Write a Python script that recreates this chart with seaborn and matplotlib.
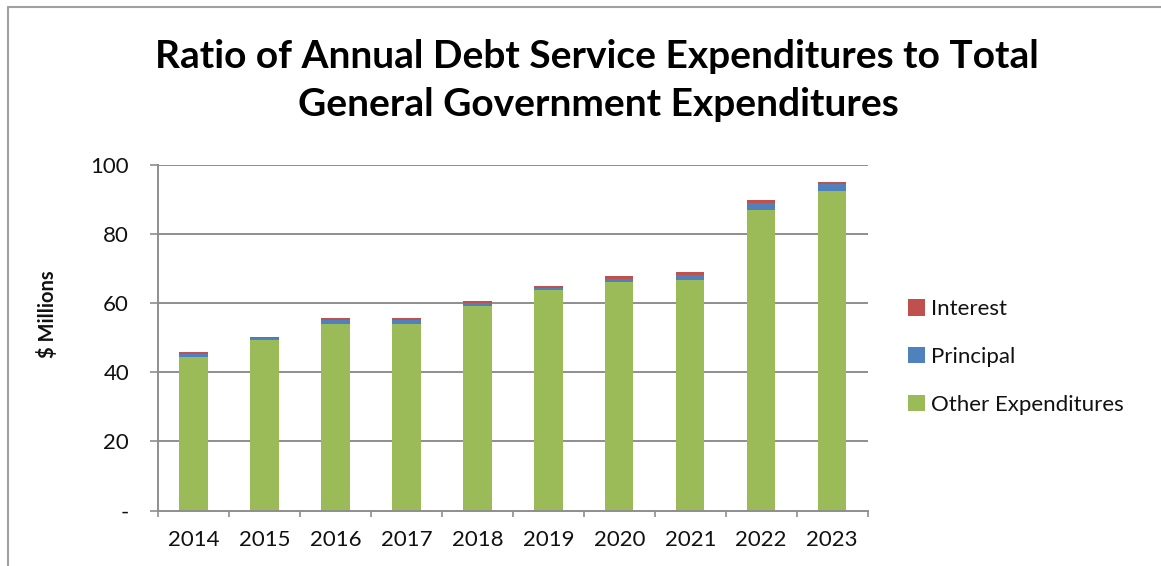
import matplotlib
matplotlib.use("Agg")
import matplotlib.pyplot as plt
from matplotlib.patches import Patch
from matplotlib.lines import Line2D
import numpy as np
import pandas as pd
import seaborn as sns

# Fiscal years and expenditure components ($ millions)
years = ["2014", "2015", "2016", "2017", "2018", "2019", "2020", "2021", "2022", "2023"]
other = [44.6, 49.3, 53.9, 53.9, 59.1, 63.8, 66.1, 66.7, 87.0, 92.6]
principal = [0.7, 0.6, 1.2, 1.2, 1.0, 0.6, 1.1, 1.65, 2.2, 1.9]
interest = [0.5, 0.5, 0.6, 0.6, 0.6, 0.6, 0.6, 0.65, 0.7, 0.6]

series_names = ["Interest", "Principal", "Other Expenditures"]
series_colors = ["#C0504D", "#4F81BD", "#9BBB59"]

y_ticks = [0, 20, 40, 60, 80, 100]
y_tick_labels = ["-", "20", "40", "60", "80", "100"]

df = pd.DataFrame({"year": years, "other": other,
                   "principal": principal, "interest": interest})
df["lvl_principal"] = df["other"] + df["principal"]
df["lvl_interest"] = df["lvl_principal"] + df["interest"]

sns.set_theme(style="white")
plt.rcParams["font.family"] = ["Lato", "DejaVu Sans"]

W, H = 1161, 566
fig = plt.figure(figsize=(W / 100, H / 100), dpi=100)
ax = fig.add_axes([158 / W, 1 - 510.5 / H, (867.7 - 158) / W, (510.5 - 165.3) / H])

grid_c = "#8E8E8E"
ax.set_axisbelow(True)
for v in y_ticks[1:]:
    ax.axhline(v, color=grid_c, lw=1.4, zorder=0)

# Stacked columns: each layer drawn at its cumulative top, front to back
layers = [("lvl_interest", series_colors[0]),
          ("lvl_principal", series_colors[1]),
          ("other", series_colors[2])]
for col, colr in layers:
    sns.barplot(data=df, x="year", y=col, color=colr, width=0.4,
                saturation=1, ax=ax, zorder=2, edgecolor="none")

ax.set_ylim(0, 100)
ax.set_xlim(-0.5, len(years) - 0.5)

ax.set_yticks(y_ticks)
ax.set_yticklabels(y_tick_labels)
ax.set_xticks(range(len(years)))
ax.set_xticklabels(years)
ax.set_xticks(np.arange(-0.5, len(years), 1.0), minor=True)

ax.tick_params(axis="y", which="major", length=5.8, width=1.2, color=grid_c,
               pad=15, labelsize=16, labelcolor="#111111", left=True)
ax.tick_params(axis="x", which="major", length=0, pad=14, labelsize=16,
               labelcolor="#111111")
ax.tick_params(axis="x", which="minor", length=4, width=1.2, color=grid_c,
               bottom=True, direction="out")

for s in ["top", "right"]:
    ax.spines[s].set_visible(False)
for s in ["left", "bottom"]:
    ax.spines[s].set_color(grid_c)
    ax.spines[s].set_linewidth(1.4)

ax.set_xlabel("")
ax.set_ylabel("$ Millions", fontsize=14.5, fontweight="bold", color="#111111",
              labelpad=0)
ax.yaxis.set_label_coords((58 - 158) / (867.7 - 158), (510.5 - 314) / (510.5 - 165.3))

fig.text(597 / W, 1 - 56 / H, "Ratio of Annual Debt Service Expenditures to Total",
         ha="center", va="center", fontsize=28, fontweight="bold", color="#000000")
fig.text(598 / W, 1 - 104 / H, "General Government Expenditures",
         ha="center", va="center", fontsize=28, fontweight="bold", color="#000000")

handles = [Patch(facecolor=c, edgecolor="none") for c in series_colors]
leg = fig.legend(handles, series_names, loc="upper left",
                 bbox_to_anchor=(897 / W, 1 - 288 / H), frameon=False,
                 fontsize=16, handlelength=0.75, handleheight=0.75,
                 handletextpad=0.3, labelspacing=1.25, borderpad=0)
for t in leg.get_texts():
    t.set_color("#111111")

# Chart frame edges
border_c = "#A0A0A0"
fig.add_artist(Line2D([8 / W, 1.0], [1 - 7 / H, 1 - 7 / H], color=border_c,
                      lw=1.5, transform=fig.transFigure))
fig.add_artist(Line2D([8 / W, 8 / W], [0, 1 - 7 / H], color=border_c,
                      lw=1.5, transform=fig.transFigure))

fig.savefig("out.png", dpi=100)
